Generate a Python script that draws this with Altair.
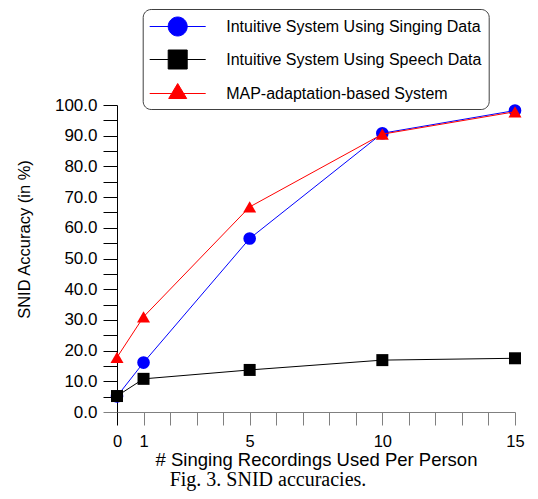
import altair as alt
import pandas as pd

recordings = [0, 1, 5, 10, 15]
singing = [5.1, 16.1, 56.5, 90.8, 98.2]
speech = [5.2, 10.8, 13.7, 16.9, 17.5]
map_adapt = [17.8, 31.0, 66.8, 90.5, 97.8]

series_names = [
    "Intuitive System Using Singing Data",
    "Intuitive System Using Speech Data",
    "MAP-adaptation-based System",
]
series_colors = ["#0000FF", "#000000", "#FF0000"]
series_shapes = ["circle", "square", "triangle-up"]
series_sizes = [160, 144, 169]
legend_paths = [
    "M-2.8,0H2.8M-0.95,0A0.95,0.95,0,1,0,0.95,0A0.95,0.95,0,1,0,-0.95,0Z",
    "M-2.8,0H2.8M-0.95,-0.95H0.95V0.95H-0.95Z",
    "M-2.8,0H2.8M0,-1L0.9,0.5H-0.9Z",
]
x_tick_values = list(range(0, 16))
x_label_values = [0, 1, 5, 10, 15]
y_tick_values = list(range(0, 101, 5))

rows = []
for name, vals in zip(series_names, [singing, speech, map_adapt]):
    for xv, yv in zip(recordings, vals):
        rows.append({"series": name, "n": xv, "acc": yv})
df = pd.DataFrame(rows)

FONT = "Liberation Sans"

x_axis = alt.Axis(
    values=x_tick_values,
    labelExpr="indexof(" + str(x_label_values) + ", datum.value) >= 0 ? datum.label : ''",
    tickSize=13,
    tickColor={"condition": {"test": "datum.value == 0", "value": "#000000"}, "value": "#808080"},
    domainColor="#808080",
    grid=False,
    labelFont=FONT,
    labelFontSize=16.5,
    labelColor="black",
    labelPadding=8,
    labelFlush=False,
    labelOverlap=False,
    titleFont=FONT,
    titleFontSize=18.5,
    titleFontWeight="normal",
    titleColor="black",
    titlePadding=1,
)
y_axis = alt.Axis(
    values=y_tick_values,
    labelExpr="datum.value % 10 == 0 ? format(datum.value, '.1f') : ''",
    tickSize=14,
    tickColor={"condition": {"test": "datum.value == 0", "value": "#808080"}, "value": "#000000"},
    domainColor="#000000",
    grid=False,
    labelFont=FONT,
    labelFontSize=17,
    labelColor="black",
    labelPadding=6,
    labelFlush=False,
    labelOverlap=False,
    titleFont=FONT,
    titleFontSize=16.5,
    titleFontWeight="normal",
    titleColor="black",
    titlePadding=22,
    titleY=134,
)

x_enc = alt.X("n:Q", scale=alt.Scale(domain=[0, 15], nice=False, zero=False), axis=x_axis,
              title="# Singing Recordings Used Per Person")
y_enc = alt.Y("acc:Q", scale=alt.Scale(domain=[0, 100], nice=False), axis=y_axis,
              title="SNID Accuracy (in %)")

layers = []
for name, color, shape, size in zip(series_names, series_colors, series_shapes, series_sizes):
    base = alt.Chart(df).transform_filter(alt.datum.series == name)
    layers.append(base.mark_line(color=color, strokeWidth=1).encode(x=x_enc, y=y_enc))
    layers.append(base.mark_point(shape=shape, filled=True, size=size, color=color, opacity=1)
                  .encode(x=x_enc, y=y_enc))

leg = alt.Legend(
    orient="none",
    legendX=25.7,
    legendY=-96,
    symbolSize=400,
    symbolOffset=17.5,
    symbolStrokeWidth=1,
    labelOffset=38,
    labelFont=FONT,
    labelFontSize=16,
    labelColor="black",
    labelLimit=400,
    rowPadding=10,
    padding=7,
    strokeColor="#404040",
    fillColor="white",
    cornerRadius=8,
)

legend_layer = alt.Chart(df).transform_filter("false").mark_point(filled=True, opacity=1).encode(
    shape=alt.Shape("series:N", scale=alt.Scale(domain=series_names, range=legend_paths), legend=leg, title=None),
    fill=alt.Fill("series:N", scale=alt.Scale(domain=series_names, range=series_colors), legend=leg, title=None),
    stroke=alt.Stroke("series:N", scale=alt.Scale(domain=series_names, range=series_colors), legend=leg, title=None),
)

chart = alt.layer(*layers, legend_layer).properties(
    width=398,
    height=307,
    autosize=alt.AutoSizeParams(type="none"),
    padding={"left": 109, "top": 97, "right": 15, "bottom": 79},
    title=alt.TitleParams(
        "Fig. 3. SNID accuracies.",
        orient="bottom",
        anchor="middle",
        font="Liberation Serif",
        fontSize=20,
        fontWeight="normal",
        color="black",
        dx=-48,
        offset=1,
    ),
).configure_view(strokeWidth=0)

chart.save("out.html", embed_options={"renderer": "svg", "actions": False})
